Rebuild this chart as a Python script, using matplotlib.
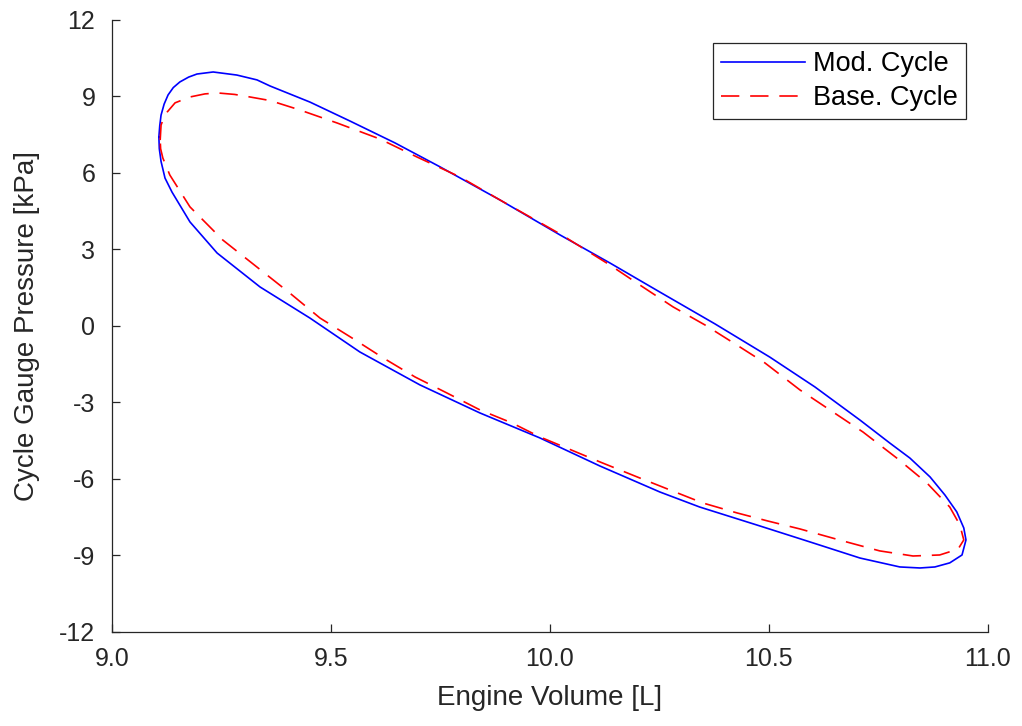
import matplotlib
matplotlib.use("Agg")
import matplotlib.pyplot as plt

plt.rcParams["font.family"] = ["Liberation Sans", "DejaVu Sans"]

# ── Data ──────────────────────────────────────────────────────
# Modified cycle: clockwise from the leftmost point
MOD_VOLUME = [
    9.107, 9.109, 9.112, 9.119, 9.128, 9.140, 9.155, 9.175, 9.194, 9.231,
    9.285, 9.331, 9.361, 9.452, 9.543, 9.646, 9.749, 9.886, 10.023, 10.137,
    10.251, 10.377, 10.502, 10.605, 10.708, 10.776, 10.822, 10.868, 10.902, 10.929,
    10.945, 10.950,
    10.941, 10.913, 10.879, 10.845, 10.799, 10.708, 10.594, 10.479, 10.342, 10.251,
    10.114, 9.977, 9.840, 9.703, 9.566, 9.452, 9.338, 9.240, 9.178, 9.137,
    9.121, 9.112, 9.108, 9.107,
]
MOD_PRESSURE = [
    7.41, 7.85, 8.27, 8.70, 9.06, 9.35, 9.57, 9.76, 9.88, 9.96,
    9.84, 9.65, 9.41, 8.78, 8.04, 7.18, 6.24, 4.94, 3.57, 2.47,
    1.33, 0.08, -1.22, -2.39, -3.69, -4.59, -5.18, -5.92, -6.63, -7.29,
    -7.92, -8.39,
    -8.98, -9.29, -9.45, -9.49, -9.45, -9.10, -8.47, -7.84, -7.10, -6.51,
    -5.49, -4.39, -3.41, -2.31, -1.02, 0.31, 1.53, 2.86, 4.08, 5.25,
    5.80, 6.45, 6.95, 7.41,
]

# Baseline cycle
BASE_VOLUME = [
    9.110, 9.112, 9.118, 9.126, 9.144, 9.178, 9.212, 9.240, 9.280, 9.315,
    9.361, 9.429, 9.514, 9.612, 9.696, 9.795, 9.886, 10.023, 10.137, 10.205,
    10.281, 10.354, 10.427, 10.491, 10.571, 10.646, 10.715, 10.792, 10.861, 10.913,
    10.936, 10.945,
    10.932, 10.890, 10.829, 10.753, 10.669, 10.571, 10.498, 10.427, 10.349, 10.274,
    10.205, 10.114, 9.977, 9.913, 9.840, 9.765, 9.692, 9.619, 9.548, 9.475,
    9.406, 9.331, 9.253, 9.178, 9.132, 9.116, 9.111, 9.110,
]
BASE_PRESSURE = [
    7.29, 7.88, 8.15, 8.39, 8.75, 8.98, 9.10, 9.14, 9.08, 8.98,
    8.84, 8.47, 7.96, 7.33, 6.63, 5.84, 4.94, 3.61, 2.39, 1.61,
    0.75, 0.04, -0.75, -1.45, -2.51, -3.37, -4.16, -5.18, -6.16, -7.10,
    -7.80, -8.39,
    -8.75, -8.98, -9.02, -8.82, -8.43, -7.96, -7.65, -7.33, -6.94, -6.43,
    -5.96, -5.33, -4.35, -3.80, -3.29, -2.63, -2.00, -1.25, -0.47, 0.31,
    1.29, 2.31, 3.37, 4.67, 5.92, 6.59, 6.95, 7.29,
]

X_TICKS = [9.0, 9.5, 10.0, 10.5, 11.0]
Y_TICKS = [-12, -9, -6, -3, 0, 3, 6, 9, 12]

TEXT_COLOR = "#262626"


def main():
    fig = plt.figure(figsize=(10.22, 7.26), dpi=100)
    ax = fig.add_axes([0.1096, 0.1295, 0.857, 0.843])

    ax.plot(MOD_VOLUME, MOD_PRESSURE, color="#0000FF", linewidth=1.2,
            label="Mod. Cycle")
    ax.plot(BASE_VOLUME, BASE_PRESSURE, color="#FF0000", linewidth=1.2,
            dashes=(11, 6.5), label="Base. Cycle")

    ax.set_xlim(9.0, 11.0)
    ax.set_ylim(-12, 12)
    ax.set_xticks(X_TICKS)
    ax.set_xticklabels([f"{v:.1f}" for v in X_TICKS])
    ax.set_yticks(Y_TICKS)
    ax.set_yticklabels([str(v) for v in Y_TICKS])

    ax.spines["top"].set_visible(False)
    ax.spines["right"].set_visible(False)
    for side in ("left", "bottom"):
        ax.spines[side].set_color(TEXT_COLOR)
        ax.spines[side].set_linewidth(0.9)
    ax.tick_params(direction="in", length=6, width=0.9, colors=TEXT_COLOR,
                   labelsize=18)
    ax.tick_params(axis="x", pad=11)
    ax.tick_params(axis="y", pad=12)

    ax.set_xlabel("Engine Volume [L]", fontsize=20, color=TEXT_COLOR, labelpad=10)
    ax.set_ylabel("Cycle Gauge Pressure [kPa]", fontsize=20, color=TEXT_COLOR,
                  labelpad=14)

    leg = ax.legend(loc="upper right", bbox_to_anchor=(0.9452, 0.9408),
                    bbox_transform=fig.transFigure, borderaxespad=0,
                    fontsize=19.5, handlelength=3.1, handletextpad=0.3,
                    labelspacing=0.3, borderpad=0.3, fancybox=False,
                    framealpha=1, edgecolor=TEXT_COLOR)
    leg.get_frame().set_linewidth(0.9)
    for t in leg.get_texts():
        t.set_color("#000000")

    fig.savefig("out.png", dpi=100)
    plt.close(fig)


if __name__ == "__main__":
    main()
